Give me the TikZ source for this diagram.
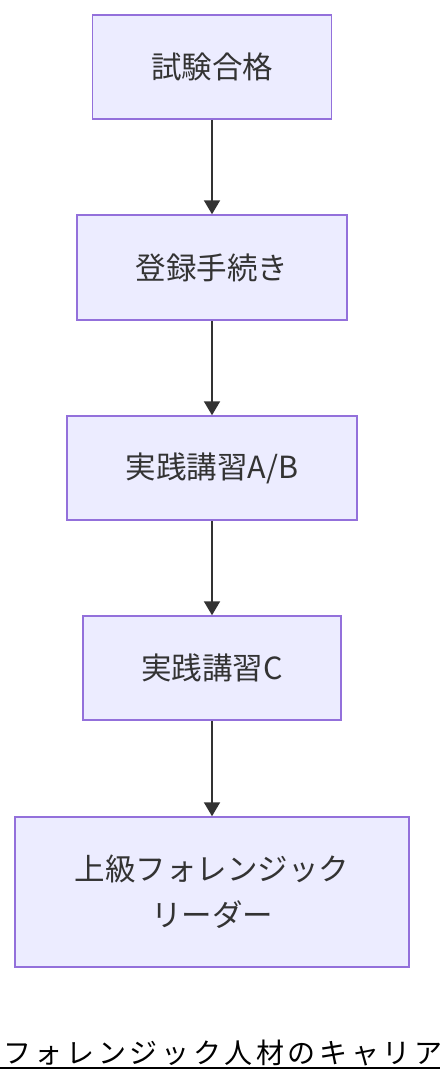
\documentclass[tikz,border=0pt]{standalone}
\usepackage{fontspec}
\setmainfont{Noto Sans CJK JP}
\usetikzlibrary{arrows.meta,shapes}
\definecolor{boxfill}{HTML}{ECECFF}
\definecolor{boxline}{HTML}{9370DB}
\definecolor{ink}{HTML}{333333}
\tikzset{
  stepbox/.style={draw=boxline,fill=boxfill,line width=1.5pt,text=ink,
    font=\fontsize{30.5}{46}\selectfont,align=center,inner sep=0pt},
  flow/.style={draw=ink,line width=2pt,-{Triangle[width=16pt,length=14pt]}}
}
\begin{document}
\begin{tikzpicture}[x=1pt,y=-1pt]
\clip (0,0) rectangle (440,1084);
\fill[white] (0,0) rectangle (440,1084);
\node[stepbox,minimum width=239pt,minimum height=104pt] (pass) at (212,67) {試験合格};
\node[stepbox,minimum width=270pt,minimum height=105pt] (reg) at (212,267.5) {登録手続き};
\node[stepbox,minimum width=290pt,minimum height=104pt] (ab) at (212,468) {実践講習A/B};
\node[stepbox,minimum width=258pt,minimum height=104pt] (c) at (212,668) {実践講習C};
\node[stepbox,minimum width=394pt,minimum height=150pt] (lead) at (212,892) {上級フォレンジック\\リーダー};
\draw[flow] (pass.south) -- (reg.north);
\draw[flow] (reg.south) -- (ab.north);
\draw[flow] (ab.south) -- (c.north);
\draw[flow] (c.south) -- (lead.north);
\node[anchor=base west,inner sep=0pt,font=\fontsize{28}{30}\selectfont\addfontfeature{LetterSpace=13}] (title) at (3,1063) {フォレンジック人材のキャリア};
\draw[line width=2pt] (0,1068) -- (440,1068);
\end{tikzpicture}
\end{document}
